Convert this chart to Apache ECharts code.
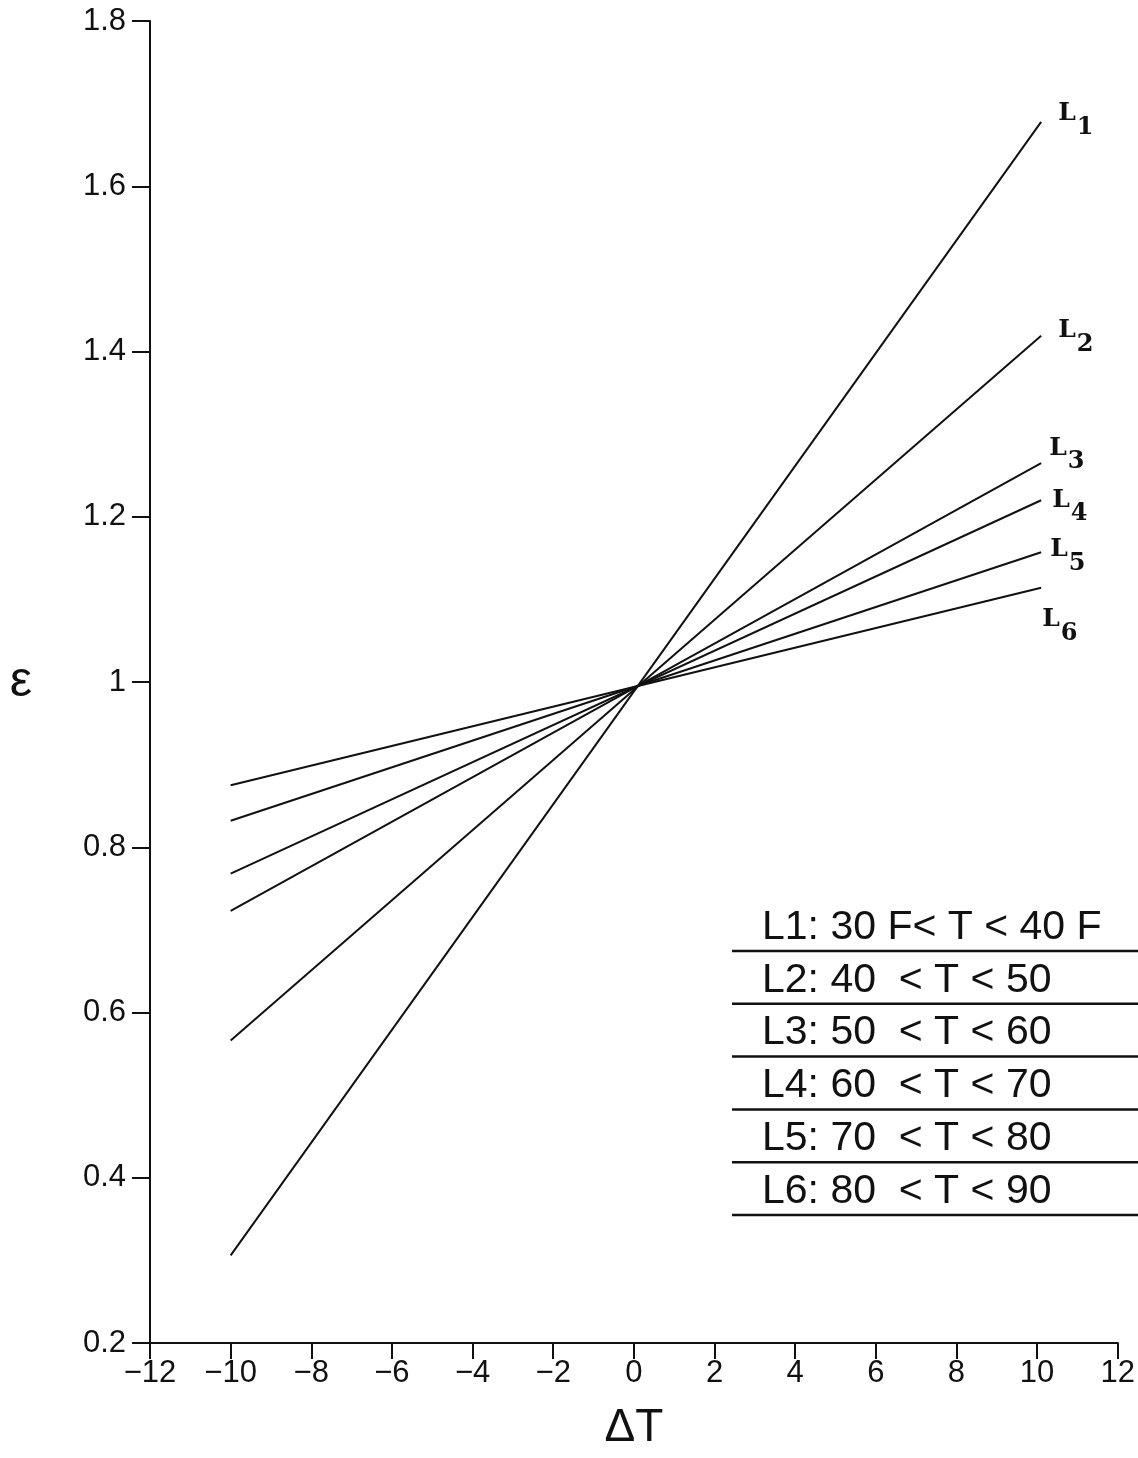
<!DOCTYPE html>
<html>
<head>
<meta charset="utf-8">
<script src="https://cdn.jsdelivr.net/npm/echarts@6/dist/echarts.min.js"></script>
<style>
html,body{margin:0;padding:0;background:#fff;}
#chart{width:1138px;height:1458px;}
</style>
</head>
<body>
<div id="chart"></div>
<script>
// ---- data ----
const deltaT = [-10, 10.1];
const seriesNames = ['L1', 'L2', 'L3', 'L4', 'L5', 'L6'];
const L1 = [0.306, 1.678];
const L2 = [0.566, 1.419];
const L3 = [0.723, 1.265];
const L4 = [0.768, 1.220];
const L5 = [0.832, 1.157];
const L6 = [0.875, 1.114];
const seriesValues = [L1, L2, L3, L4, L5, L6];
const subscripts = ['1', '2', '3', '4', '5', '6'];
const legendLabels = [
  'L1: 30 F< T < 40 F',
  'L2: 40  < T < 50',
  'L3: 50  < T < 60',
  'L4: 60  < T < 70',
  'L5: 70  < T < 80',
  'L6: 80  < T < 90'
];
const xAxisName = '\u0394T';
const yAxisName = '\u03b5';

// ---- styling (not data) ----
const labelOffsets = [[12, -1], [12, 2], [3, -8], [6, 7], [4, 4], [-4, 39]];
const ink = '#111';
const sansFont = '"Liberation Sans", Arial, sans-serif';
const slabFont = '"DejaVu Serif", "Liberation Serif", serif';

const chart = echarts.init(document.getElementById('chart'), null, {renderer: 'canvas'});

const series = seriesNames.map((name, i) => ({
  name: name,
  type: 'line',
  showSymbol: false,
  symbol: 'none',
  silent: true,
  lineStyle: {color: ink, width: 2},
  endLabel: {
    show: true,
    distance: 5,
    offset: labelOffsets[i],
    formatter: '{a|L}{b|' + subscripts[i] + '}',
    rich: {
      a: {fontFamily: slabFont, fontWeight: 'bold', fontSize: 25, color: ink, padding: [0, 0, 14, 0]},
      b: {fontFamily: slabFont, fontWeight: 'bold', fontSize: 24, color: ink, padding: [14, 0, 0, 1]}
    }
  },
  data: [
    [deltaT[0], seriesValues[i][0]],
    [deltaT[1], seriesValues[i][1]]
  ]
}));

// legend block drawn as text rows with rules beneath
const legendTop = 927, rowGap = 52.8;
const graphics = [];
legendLabels.forEach((t, i) => {
  graphics.push({
    type: 'text',
    left: 762,
    top: legendTop + i * rowGap - 20,
    style: {text: t, font: '41px ' + sansFont, fill: ink}
  });
  graphics.push({
    type: 'line',
    shape: {x1: 732, y1: legendTop + 24 + i * rowGap, x2: 1138, y2: legendTop + 24 + i * rowGap},
    style: {stroke: ink, lineWidth: 2.5}
  });
});

const option = {
  backgroundColor: '#fff',
  animation: false,
  grid: {left: 150, right: 17, top: 21, bottom: 115, containLabel: false},
  xAxis: {
    type: 'value',
    min: -12, max: 12, interval: 2,
    name: xAxisName,
    nameLocation: 'middle',
    nameGap: 62,
    nameTextStyle: {fontFamily: sansFont, fontSize: 46, color: ink},
    axisLine: {show: true, onZero: false, lineStyle: {color: ink, width: 2}},
    axisTick: {show: true, inside: false, length: 16, lineStyle: {color: ink, width: 2}},
    axisLabel: {
      fontFamily: sansFont, fontSize: 31, color: ink, margin: 15,
      formatter: v => String(v).replace('-', '\u2212')
    },
    splitLine: {show: false}
  },
  yAxis: {
    type: 'value',
    min: 0.2, max: 1.8, interval: 0.2,
    name: yAxisName,
    nameLocation: 'middle',
    nameRotate: 0,
    nameGap: 118,
    nameTextStyle: {fontFamily: sansFont, fontSize: 50, color: ink, padding: [12, 0, 0, 0]},
    axisLine: {show: true, onZero: false, lineStyle: {color: ink, width: 2}},
    axisTick: {show: true, inside: false, length: 18, lineStyle: {color: ink, width: 2}},
    axisLabel: {
      fontFamily: sansFont, fontSize: 31, color: ink, margin: 24,
      formatter: v => String(Math.round(v * 10) / 10)
    },
    splitLine: {show: false}
  },
  graphic: graphics,
  series: series
};
chart.setOption(option);
</script>
</body>
</html>
